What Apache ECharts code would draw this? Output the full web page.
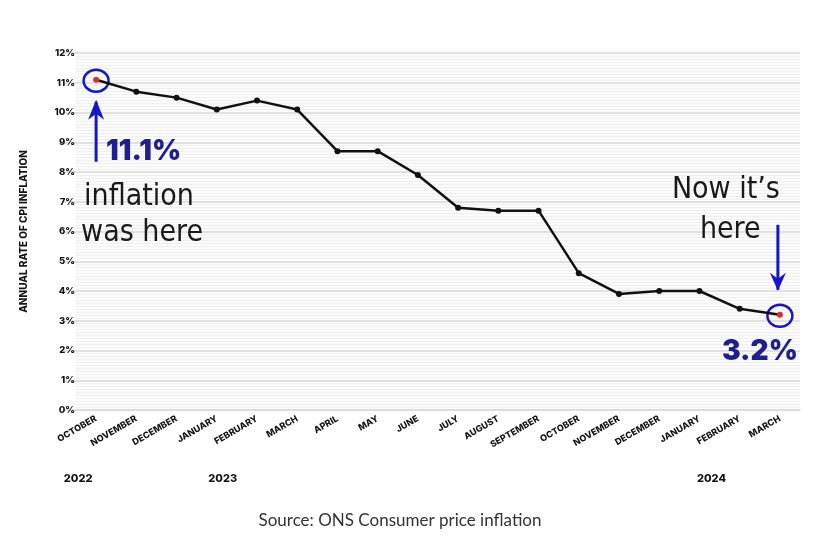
<!DOCTYPE html>
<html><head><meta charset="utf-8">
<script src="https://cdn.jsdelivr.net/npm/echarts@6/dist/echarts.min.js"></script>
<style>html,body{margin:0;padding:0;background:#fff}#c{width:830px;height:540px}</style>
</head><body><div id="c"></div>
<script>
const months = ['OCTOBER','NOVEMBER','DECEMBER','JANUARY','FEBRUARY','MARCH','APRIL','MAY','JUNE','JULY','AUGUST','SEPTEMBER','OCTOBER','NOVEMBER','DECEMBER','JANUARY','FEBRUARY','MARCH'];
const cpi = [11.1,10.7,10.5,10.1,10.4,10.1,8.7,8.7,7.9,6.8,6.7,6.7,4.6,3.9,4.0,4.0,3.4,3.2];
const years = [{idx:0,label:'2022',dx:-18},{idx:3,label:'2023',dx:6},{idx:15,label:'2024',dx:12}];
const yTicks = [0,1,2,3,4,5,6,7,8,9,10,11,12];

const chart = echarts.init(document.getElementById('c'));
const bold = 'Inter';
chart.setOption({
  animation:false,
  backgroundColor:'#fff',
  grid:{left:76,right:30,top:53,bottom:130,show:true,backgroundColor:'#fbfbfb',borderWidth:0},
  xAxis:{type:'category',data:months.map((m,i)=>m+'\u200b'.repeat(i)),boundaryGap:true,
    axisLine:{lineStyle:{color:'#dcdcdc',width:1.5}},
    axisTick:{alignWithLabel:true,length:7,lineStyle:{color:'#cfcfcf',width:1.5}},
    axisLabel:{interval:0,rotate:30,fontSize:9,fontWeight:800,fontFamily:bold,color:'#151515',margin:8,
      formatter:v=>v.replace(/\u200b/g,'')}
  },
  yAxis:{type:'value',min:0,max:12,interval:1,
    name:'ANNUAL RATE OF CPI INFLATION',nameLocation:'middle',nameGap:47,nameRotate:90,
    nameTextStyle:{fontSize:10,fontWeight:800,fontFamily:bold,color:'#151515'},
    axisLine:{show:false},
    axisTick:{show:true,length:13,lineStyle:{color:'#d8d8d8',width:1.5}},
    axisLabel:{formatter:v=>yTicks.includes(v)?v+'%':'',fontSize:9.5,fontWeight:800,fontFamily:bold,color:'#151515',margin:1},
    splitLine:{lineStyle:{color:'#d8d8d8',width:1.5}},
    minorTick:{show:false,splitNumber:10},
    minorSplitLine:{show:true,lineStyle:{color:'#f0f0f0',width:1}}
  },
  series:[{type:'line',data:cpi.map((v,i)=>({value:v,itemStyle:{color:(i===0||i===cpi.length-1)?'#d9302a':'#111'}})),
    symbol:'circle',symbolSize:6,lineStyle:{color:'#111',width:2.5},itemStyle:{color:'#111'}}]
});

function place(){
  const p0 = chart.convertToPixel({xAxisIndex:0,yAxisIndex:0},[0,cpi[0]]);
  const pN = chart.convertToPixel({xAxisIndex:0,yAxisIndex:0},[cpi.length-1,cpi[cpi.length-1]]);
  const blue='#1616c8', navy='#1f1f8f';
  const hand='DejaVu Sans Condensed';
  const g=[];
  years.forEach(y=>{
    const x=chart.convertToPixel({xAxisIndex:0},y.idx);
    g.push({type:'text',x:x+y.dx,y:479,style:{text:y.label,fontSize:11,fontWeight:800,fontFamily:bold,fill:'#151515',align:'center',verticalAlign:'middle'}});
  });
  function circ(p){
    g.push({type:'ellipse',shape:{cx:p[0],cy:p[1]+1,rx:12.5,ry:11},style:{fill:'none',stroke:blue,lineWidth:2.5}});
  }
  circ(p0); circ(pN);
  // up arrow
  g.push({type:'line',shape:{x1:p0[0],y1:p0[1]+82,x2:p0[0],y2:p0[1]+22},style:{stroke:blue,lineWidth:3}});
  g.push({type:'polygon',shape:{points:[[p0[0]-8,p0[1]+40],[p0[0],p0[1]+20],[p0[0]+8,p0[1]+40],[p0[0],p0[1]+34]]},style:{fill:blue}});
  // down arrow
  g.push({type:'line',shape:{x1:pN[0]-2,y1:pN[1]-90,x2:pN[0]-2,y2:pN[1]-25},style:{stroke:blue,lineWidth:3}});
  g.push({type:'polygon',shape:{points:[[pN[0]-10,pN[1]-42],[pN[0]-2,pN[1]-24],[pN[0]+6,pN[1]-42],[pN[0]-2,pN[1]-36]]},style:{fill:blue}});
  g.push({type:'text',x:p0[0]+10,y:p0[1]+72,style:{text:'11.1%',fontSize:28,fontWeight:900,fontFamily:bold,fill:navy,align:'left',verticalAlign:'middle'}});
  g.push({type:'text',x:p0[0]-12,y:p0[1]+117,style:{text:'inflation',fontSize:30,fontFamily:hand,fill:'#1a1a1a',align:'left',verticalAlign:'middle'}});
  g.push({type:'text',x:p0[0]-15,y:p0[1]+153,style:{text:'was here',fontSize:30,fontFamily:hand,fill:'#1a1a1a',align:'left',verticalAlign:'middle'}});
  g.push({type:'text',x:pN[0]-108,y:pN[1]-125,style:{text:'Now it\u2019s',fontSize:30,fontFamily:hand,fill:'#1a1a1a',align:'left',verticalAlign:'middle'}});
  g.push({type:'text',x:pN[0]-80,y:pN[1]-85,style:{text:'here',fontSize:30,fontFamily:hand,fill:'#1a1a1a',align:'left',verticalAlign:'middle'}});
  g.push({type:'text',x:pN[0]+18,y:pN[1]+37,style:{text:'3.2%',fontSize:28,fontWeight:900,fontFamily:bold,fill:navy,align:'right',verticalAlign:'middle'}});
  g.push({type:'text',x:400,y:521,style:{text:'Source: ONS Consumer price inflation',fontSize:17,fontFamily:'Lato',fill:'#333',align:'center',verticalAlign:'middle'}});
  chart.setOption({graphic:g});
}
place();
</script></body></html>
